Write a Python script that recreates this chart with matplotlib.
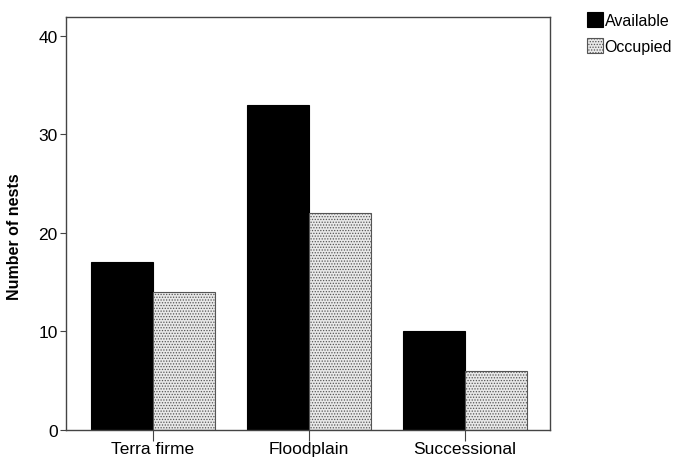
import matplotlib
matplotlib.use('Agg')
from matplotlib import pyplot as plt
import numpy as np

# data
categories = ['Terra firme', 'Floodplain', 'Successional']
available = [17, 33, 10]
occupied = [14, 22, 6]

plt.rcParams['font.family'] = ['Liberation Sans', 'DejaVu Sans']
plt.rcParams['hatch.color'] = '#8a8a8a'
plt.rcParams['hatch.linewidth'] = 0.6

fig = plt.figure(figsize=(6.81, 4.60), dpi=100)
ax = fig.add_axes([0.0969, 0.063, 0.7107, 0.898])

x = np.arange(len(categories))
w = 0.397

b1 = ax.bar(x - w / 2, available, w, color='black', edgecolor='black', linewidth=0.8,
            label='Available')
b2 = ax.bar(x + w / 2, occupied, w, color='#e8e8e8', edgecolor='#555555', linewidth=0.8,
            hatch='......', label='Occupied')

ax.set_xlim(-0.558, 2.545)
ax.set_ylim(0, 41.9)
ax.set_yticks([0, 10, 20, 30, 40])
ax.set_xticks(x)
ax.set_xticklabels(categories, fontsize=12.5)
ax.tick_params(axis='y', labelsize=12.5, length=4, pad=2, color='#444444')
ax.tick_params(axis='x', length=8, pad=0, color='#444444')
for s in ax.spines.values():
    s.set_color('#444444')
    s.set_linewidth(1.0)

ax.set_ylabel('Number of nests', fontsize=11.5, fontweight='bold')
ax.yaxis.set_label_coords(-0.09, 0.47)

fig.legend(handles=[b1, b2], loc='upper left', bbox_to_anchor=(0.852, 0.985),
           frameon=False, fontsize=11.5, handlelength=1.0, handleheight=1.05,
           handletextpad=0.12, labelspacing=0.6, borderaxespad=0)

fig.savefig('out.png', dpi=100)
